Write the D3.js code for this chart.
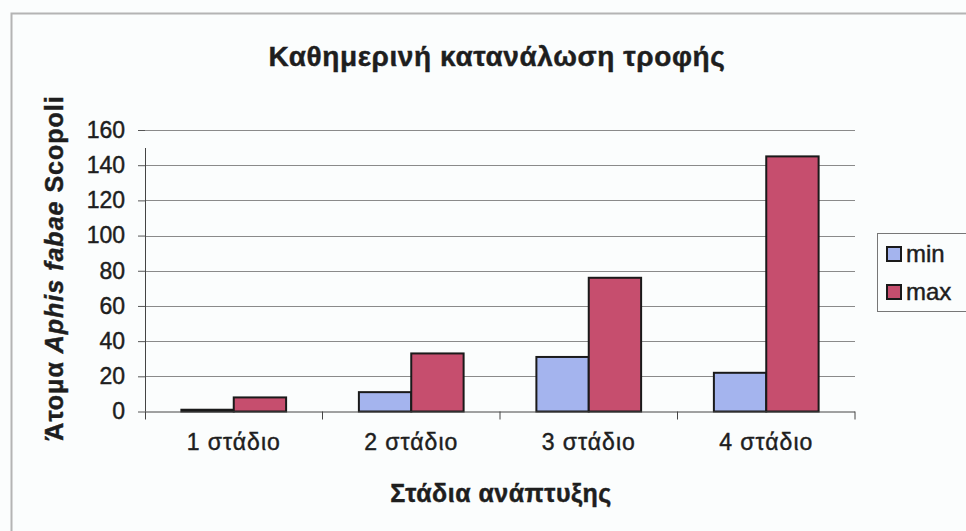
<!DOCTYPE html>
<html>
<head>
<meta charset="utf-8">
<script src="https://cdn.jsdelivr.net/npm/d3@7"></script>
<style>
  html, body { margin: 0; padding: 0; background: #fbfdfd; }
  svg { display: block; font-family: "Liberation Sans", Arial, sans-serif; }
  text { stroke: #1e1e1e; stroke-width: 0.45px; }
</style>
</head>
<body>
<div id="chart"></div>
<script>
const stages = ["1 στάδιο", "2 στάδιο", "3 στάδιο", "4 στάδιο"];
const seriesNames = ["min", "max"];
const minValues = [1, 11, 31, 22];
const maxValues = [8, 33, 76, 145];
const yTicks = [0, 20, 40, 60, 80, 100, 120, 140, 160];

const width = 966, height = 531;
const margin = {left: 145, right: 111, top: 130, bottom: 120};
const colors = {min: "#a4b4ee", max: "#c64e6e"};

let svg = d3.select("#chart")
  .append("svg")
    .attr("width", width)
    .attr("height", height);

// outer frame (only top and left edges visible)
svg.append("path")
  .attr("d", "M11.5," + height + "V13.5H" + width)
  .attr("fill", "none")
  .attr("stroke", "#b4b4b4")
  .attr("stroke-width", 2);

let data = stages.map((s, i) => ({stage: s, min: minValues[i], max: maxValues[i]}));

let x0 = d3.scaleBand()
  .domain(stages)
  .range([margin.left, width - margin.right])
  .paddingInner(0.41)
  .paddingOuter(0.205);

let x1 = d3.scaleBand()
  .domain(seriesNames)
  .range([0, x0.bandwidth()]);

let y = d3.scaleLinear()
  .domain([0, 160])
  .range([height - margin.bottom + 0.5, margin.top]);

// gridlines
svg.append("g")
  .selectAll("line")
  .data(yTicks.filter(d => d > 0))
  .enter()
  .append("line")
    .attr("x1", margin.left)
    .attr("x2", width - margin.right)
    .attr("y1", d => Math.round(y(d)) + 0.5)
    .attr("y2", d => Math.round(y(d)) + 0.5)
    .attr("stroke", "#8a8a8a")
    .attr("stroke-width", 1);

// bars
let groups = svg.append("g")
  .selectAll("g")
  .data(data)
  .enter()
  .append("g")
    .attr("transform", d => "translate(" + x0(d.stage) + ",0)");

groups.selectAll("rect")
  .data(d => seriesNames.map(k => ({key: k, value: d[k]})))
  .enter()
  .append("rect")
    .attr("x", d => x1(d.key))
    .attr("y", d => y(d.value))
    .attr("width", x1.bandwidth())
    .attr("height", d => y(0) - y(d.value))
    .attr("fill", d => colors[d.key])
    .attr("stroke", "#1a1a1a")
    .attr("stroke-width", 2);

// y axis
let yAxis = d3.axisLeft(y)
  .tickValues(yTicks)
  .tickSize(7)
  .tickPadding(13);

svg.append("g")
  .attr("transform", "translate(" + margin.left + ",0)")
  .call(yAxis)
  .call(g => g.select(".domain").attr("stroke", "#444").attr("d", "M0.5," + y(0) + "V" + (y(160) + 18)))
  .call(g => g.selectAll(".tick line").attr("stroke", "#555"))
  .call(g => g.selectAll(".tick text")
      .attr("fill", "#1e1e1e")
      .style("font-size", "23px")
      .style("font-family", "Liberation Sans, Arial, sans-serif"));

// x axis
let xAxis = d3.axisBottom(x0)
  .tickSize(0)
  .tickPadding(22);

let xg = svg.append("g")
  .attr("transform", "translate(0," + y(0) + ")")
  .call(xAxis);
xg.select(".domain").attr("stroke", "#444").attr("d", "M" + margin.left + ",0.5H" + (width - margin.right));
xg.selectAll(".tick text")
  .attr("fill", "#1e1e1e")
  .style("font-size", "23px")
  .style("letter-spacing", "1px")
  .style("font-family", "Liberation Sans, Arial, sans-serif");

// category separators
xg.append("g")
  .selectAll("line")
  .data(stages)
  .enter()
  .append("line")
    .attr("x1", d => x0(d) + x0.step() * 0.795)
    .attr("x2", d => x0(d) + x0.step() * 0.795)
    .attr("y1", 0)
    .attr("y2", 8)
    .attr("stroke", "#444");
xg.append("line")
  .attr("x1", margin.left + 0.5).attr("x2", margin.left + 0.5)
  .attr("y1", 0).attr("y2", 8)
  .attr("stroke", "#444");

// title
svg.append("text")
  .attr("x", 497)
  .attr("y", 66)
  .attr("text-anchor", "middle")
  .attr("fill", "#1e1e1e")
  .style("font-size", "28px")
  .style("letter-spacing", "0.6px")
  .style("font-weight", "bold")
  .text("Καθημερινή κατανάλωση τροφής");

// y title
let yt = svg.append("text")
  .attr("transform", "translate(63," + 268 + ") rotate(-90)")
  .attr("text-anchor", "middle")
  .attr("fill", "#1e1e1e")
  .style("font-size", "25px")
  .style("letter-spacing", "1px")
  .style("font-weight", "bold");
yt.append("tspan").text("Άτομα ");
yt.append("tspan").style("font-style", "italic").text("Aphis fabae");
yt.append("tspan").text(" Scopoli");

// x title
svg.append("text")
  .attr("x", 501)
  .attr("y", 502)
  .attr("text-anchor", "middle")
  .attr("fill", "#1e1e1e")
  .style("font-size", "25px")
  .style("letter-spacing", "0.5px")
  .style("font-weight", "bold")
  .text("Στάδια ανάπτυξης");

// legend
let legend = svg.append("g")
  .attr("transform", "translate(877,233)");
legend.append("rect")
  .attr("x", 0.5).attr("y", 0.5)
  .attr("width", 100).attr("height", 78)
  .attr("fill", "none")
  .attr("stroke", "#777");

let items = legend.selectAll(".item")
  .data(seriesNames)
  .enter()
  .append("g")
    .attr("class", "item")
    .attr("transform", (d, i) => "translate(10," + (14 + i * 38) + ")");
items.append("rect")
  .attr("width", 14).attr("height", 14)
  .attr("fill", d => colors[d])
  .attr("stroke", "#1a1a1a")
  .attr("stroke-width", 2);
items.append("text")
  .attr("x", 19)
  .attr("y", 15)
  .attr("fill", "#1e1e1e")
  .style("font-size", "24px")
  .text(d => d);
</script>
</body>
</html>
